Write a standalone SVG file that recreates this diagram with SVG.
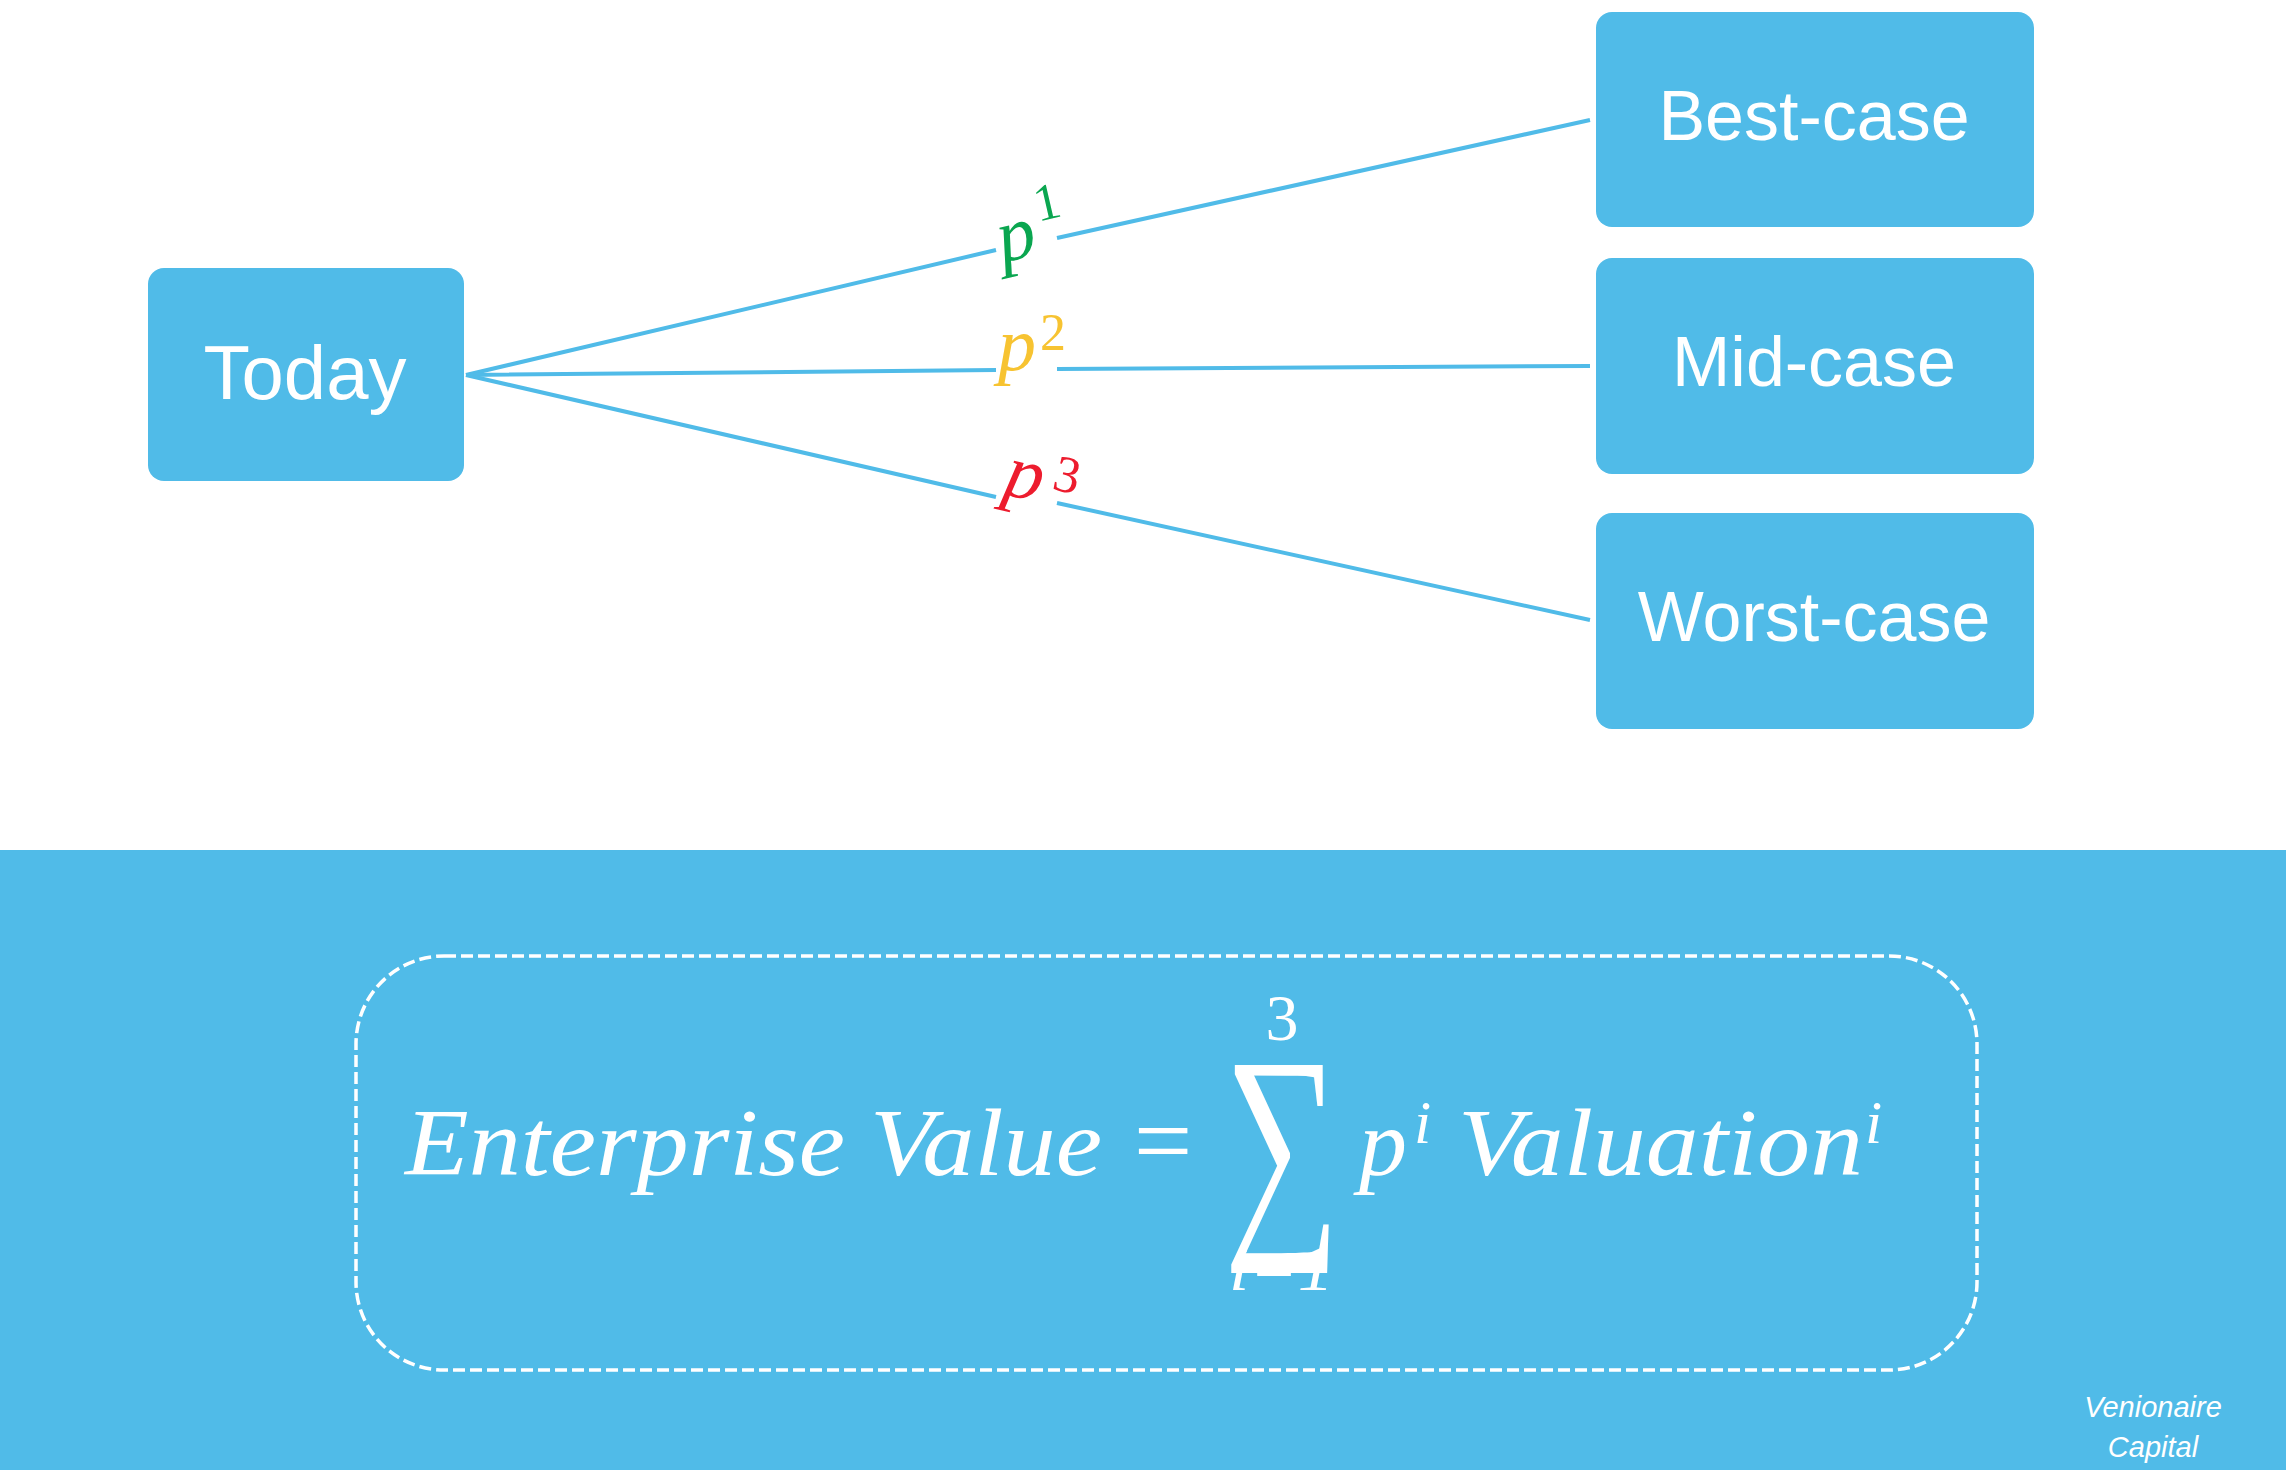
<svg xmlns="http://www.w3.org/2000/svg" width="2286" height="1470" viewBox="0 0 2286 1470">
<style>
.box{fill:#50bbe8}
.lbl{font-family:"Liberation Sans",Arial,sans-serif;font-size:70px;fill:#fff;text-anchor:middle}
.conn{stroke:#50bbe8;stroke-width:4;fill:none}
.m{font-family:"Liberation Serif","Times New Roman",serif;fill:#fff;font-style:italic}
.r{font-family:"Liberation Serif","Times New Roman",serif;fill:#fff}
.p{font-family:"Liberation Serif","Times New Roman",serif;font-style:italic;font-size:76px}
.s{font-family:"Liberation Serif","Times New Roman",serif;font-size:52px}
.wm{font-family:"Liberation Sans",Arial,sans-serif;font-style:italic;font-size:29px;fill:#fff;text-anchor:middle}
</style>
<rect width="2286" height="1470" fill="#fff"/>
<rect id="band" x="0" y="850" width="2286" height="620" fill="#50bbe8"/>
<g id="connectors">
<path class="conn" d="M466 375L996 250M1057 238L1590 120"/>
<path class="conn" d="M466 375L996 370M1057 369L1590 366"/>
<path class="conn" d="M466 375L996 497M1057 503L1590 620"/>
</g>
<g id="today"><rect class="box" x="148" y="268" width="316" height="213" rx="16"/><text class="lbl" x="305" y="399" style="font-size:76px">Today</text></g>
<g id="best"><rect class="box" x="1596" y="12" width="438" height="215" rx="16"/><text class="lbl" x="1814" y="140">Best-case</text></g>
<g id="mid"><rect class="box" x="1596" y="258" width="438" height="216" rx="16"/><text class="lbl" x="1814" y="386">Mid-case</text></g>
<g id="worst"><rect class="box" x="1596" y="513" width="438" height="216" rx="16"/><text class="lbl" x="1814" y="641">Worst-case</text></g>
<g id="p1" fill="#0aa650" transform="rotate(-13 1030 240)"><text class="p" x="998" y="256">p</text><text class="s" x="1042" y="224">1</text></g>
<g id="p2" fill="#f7c331"><text class="p" x="998" y="370">p</text><text class="s" x="1040" y="350">2</text></g>
<g id="p3" fill="#ed1c2e" transform="rotate(13 1030 490)"><text class="p" x="1003" y="500">p</text><text class="s" x="1050" y="484">3</text></g>
<g id="formula">
<rect x="356" y="956" width="1621" height="414" rx="88" fill="none" stroke="#fff" stroke-width="3.5" stroke-dasharray="12 5"/>
<text class="m" x="405" y="1175" font-size="96" textLength="440" lengthAdjust="spacingAndGlyphs">Enterprise</text>
<text class="m" x="870" y="1175" font-size="96" textLength="232" lengthAdjust="spacingAndGlyphs">Value</text>
<text class="r" x="1163" y="1176" font-size="104" text-anchor="middle">=</text>
<text class="r" x="1282" y="1040" font-size="66" text-anchor="middle">3</text>
<text class="r" x="1282" y="1222" font-size="240" text-anchor="middle" textLength="116" lengthAdjust="spacingAndGlyphs">∑</text>
<text class="m" x="1229" y="1290" font-size="66" textLength="105" lengthAdjust="spacingAndGlyphs">i=1</text>
<text class="m" x="1359" y="1175" font-size="96">p</text>
<text class="m" x="1414" y="1143" font-size="62">i</text>
<text class="m" x="1458" y="1175" font-size="96" textLength="405" lengthAdjust="spacingAndGlyphs">Valuation</text>
<text class="m" x="1865" y="1143" font-size="62">i</text>
</g>
<g id="watermark"><text class="wm" x="2153" y="1417">Venionaire</text><text class="wm" x="2153" y="1457">Capital</text></g>
</svg>
